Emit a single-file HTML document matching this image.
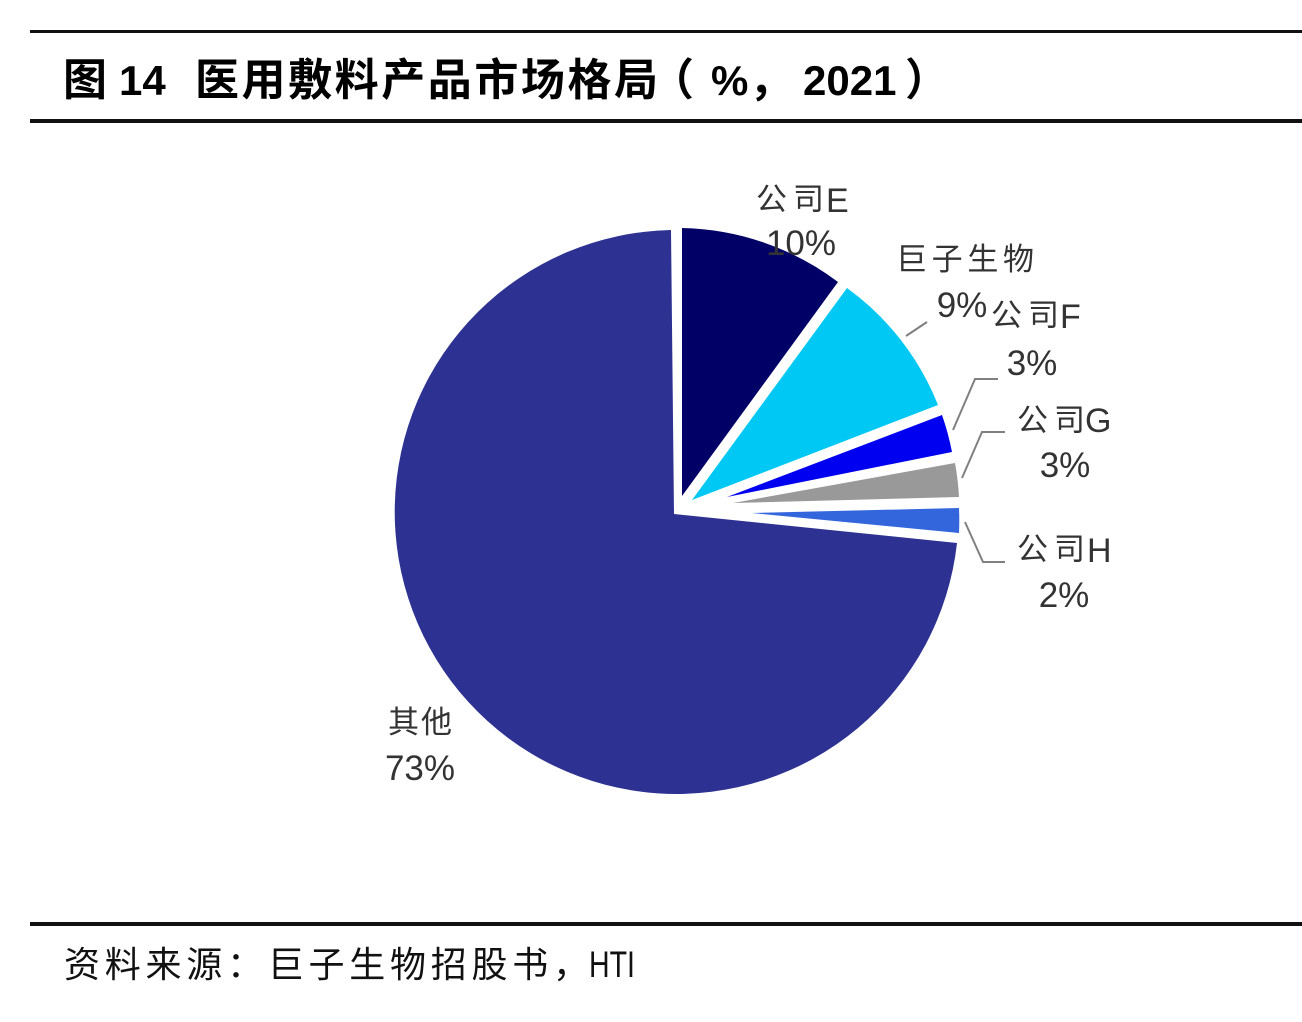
<!DOCTYPE html>
<html>
<head>
<meta charset="utf-8">
<style>
  html,body{margin:0;padding:0;background:#ffffff;}
  svg{display:block;}
  .cjkb{font-family:"Liberation Sans","Noto Sans CJK SC",sans-serif;font-weight:bold;}
  .latb{font-family:"Liberation Sans",sans-serif;font-weight:bold;}
  .cjk{font-family:"Liberation Sans","Noto Sans CJK SC",sans-serif;}
  .lat{font-family:"Liberation Sans",sans-serif;}
</style>
</head>
<body>
<svg width="1302" height="1022" viewBox="0 0 1302 1022" xmlns="http://www.w3.org/2000/svg">
  <rect x="0" y="0" width="1302" height="1022" fill="#ffffff"/>

  <!-- header rules -->
  <rect x="30" y="30" width="1272" height="3" fill="#111"/>
  <rect x="30" y="119" width="1272" height="4" fill="#111"/>

  <!-- title -->
  <text class="cjkb" x="63" y="95" font-size="44" fill="#000">图</text>
  <text class="latb" x="119" y="95" font-size="42" fill="#000">14</text>
  <text class="cjkb" x="195" y="95" font-size="44" fill="#000" textLength="463">医用敷料产品市场格局</text>
  <text class="cjkb" x="650" y="95" font-size="44" fill="#000">（</text>
  <text class="latb" x="711" y="95" font-size="42" fill="#000">%</text>
  <text class="cjkb" x="749" y="95" font-size="44" fill="#000">，</text>
  <text class="latb" x="803" y="95" font-size="42" fill="#000">2021</text>
  <text class="cjkb" x="905" y="95" font-size="44" fill="#000">）</text>

  <!-- pie slices -->
  <!-- 其他 -->
  <path d="M674,514 L957,543 A282,282 0 1 1 671,230 Z" fill="#2D3192"/>
  <!-- 公司E -->
  <path d="M682,496 L682,228 A268,268 0 0 1 838,282 Z" fill="#000066"/>
  <!-- 巨子生物 -->
  <path d="M692,500 L847,288 A265,265 0 0 1 938,405 Z" fill="#00C8F4"/>
  <!-- 公司F -->
  <path d="M727,497 L942,415 A265,265 0 0 1 952,452 Z" fill="#0000F0"/>
  <!-- 公司G -->
  <path d="M733,503 L955,463 A265,265 0 0 1 959,497 Z" fill="#999999"/>
  <!-- 公司H -->
  <path d="M752,513 L959,508 A265,265 0 0 1 959,533 Z" fill="#3366DD"/>

  <!-- leader lines -->
  <g stroke="#808080" stroke-width="2" fill="none">
    <polyline points="906,336 927,322"/>
    <polyline points="953,430 975,379 998,379"/>
    <polyline points="962,478 982,432 1005,432"/>
    <polyline points="965,522 983,562 1005,562"/>
  </g>

  <!-- labels -->
  <g fill="#333">
    <text class="cjk" x="756" y="210" font-size="31" textLength="68">公司</text>
    <text class="lat" x="826" y="212" font-size="34">E</text>
    <text class="lat" x="801" y="255" font-size="35" text-anchor="middle">10%</text>

    <text class="cjk" x="896" y="270" font-size="31" textLength="138">巨子生物</text>
    <text class="lat" x="962" y="317" font-size="35" text-anchor="middle">9%</text>

    <text class="cjk" x="991" y="326" font-size="31" textLength="68">公司</text>
    <text class="lat" x="1060" y="328" font-size="34">F</text>
    <text class="lat" x="1032" y="375" font-size="35" text-anchor="middle">3%</text>

    <text class="cjk" x="1017" y="431" font-size="31" textLength="68">公司</text>
    <text class="lat" x="1085" y="432" font-size="34">G</text>
    <text class="lat" x="1065" y="477" font-size="35" text-anchor="middle">3%</text>

    <text class="cjk" x="1017" y="560" font-size="31" textLength="68">公司</text>
    <text class="lat" x="1087" y="562" font-size="34">H</text>
    <text class="lat" x="1064" y="607" font-size="35" text-anchor="middle">2%</text>

    <text class="cjk" x="388" y="733" font-size="31" textLength="64">其他</text>
    <text class="lat" x="420" y="780" font-size="35" text-anchor="middle">73%</text>
  </g>

  <!-- footer rule -->
  <rect x="30" y="922" width="1272" height="4" fill="#111"/>

  <!-- source -->
  <text class="cjk" x="64" y="977" font-size="36" fill="#111" textLength="525">资料来源：巨子生物招股书，</text>
  <text class="lat" x="589" y="977" font-size="37" fill="#111" textLength="46" lengthAdjust="spacingAndGlyphs">HTI</text>
</svg>
</body>
</html>
